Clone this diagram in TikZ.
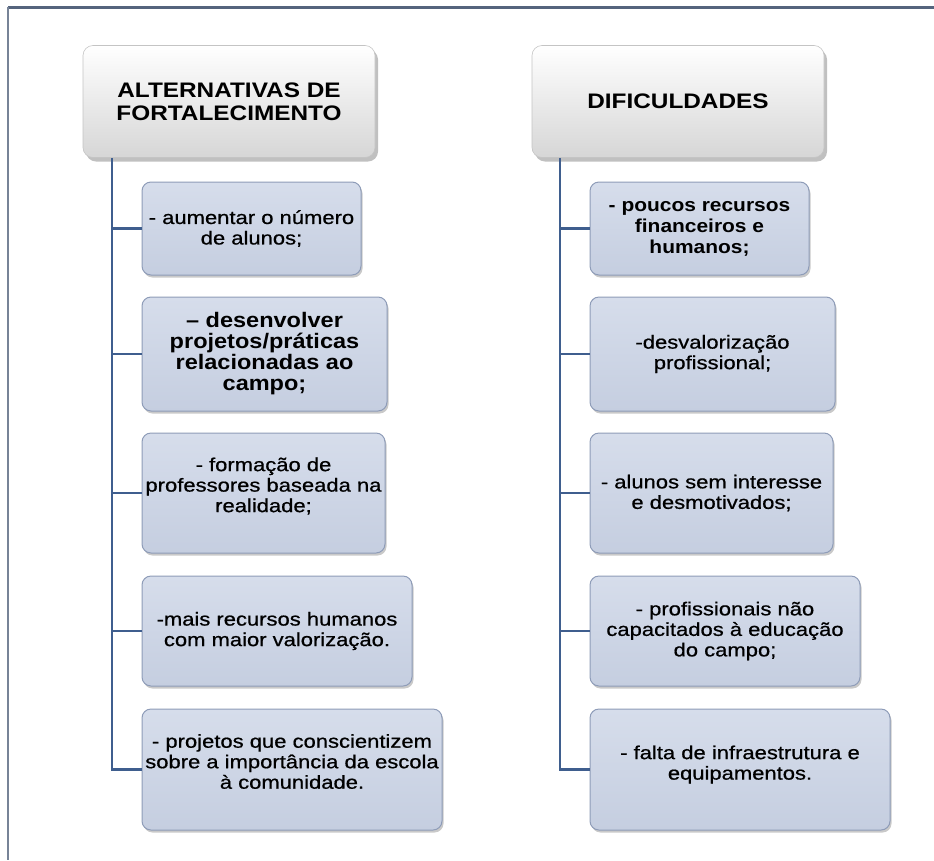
\documentclass[tikz,border=0pt]{standalone}
\usepackage{fontspec}
\setmainfont{Liberation Sans}
\newfontfamily\hdfont[FakeStretch=1.16]{Liberation Sans}
\newfontfamily\bdfont[FakeStretch=1.17,FakeBold=0.7]{Liberation Sans}
\newfontfamily\bbfont[FakeStretch=1.12]{Liberation Sans}
\usetikzlibrary{shadows}
\definecolor{linecol}{HTML}{3F5E8E}
\definecolor{framecol}{HTML}{55647D}
\definecolor{boxline}{HTML}{8E9CB8}
\definecolor{boxtop}{HTML}{D6DDEB}
\definecolor{boxbot}{HTML}{C5CEE0}
\definecolor{headbot}{HTML}{D6D6D6}
\definecolor{headline}{HTML}{C4C4C4}
\tikzset{
  headbox/.style={rectangle, rounded corners=10pt, top color=white, bottom color=headbot,
    draw=headline, line width=0.6pt, minimum width=292pt, minimum height=112pt, inner sep=0pt,
    align=center, font=\hdfont\bfseries\fontsize{21}{23}\selectfont,
    drop shadow={shadow xshift=3pt, shadow yshift=-4pt, opacity=0.35, fill=black!70}},
  bodybox/.style={rectangle, rounded corners=9pt, top color=boxtop, bottom color=boxbot,
    draw=boxline, line width=1pt, inner sep=0pt, align=center,
    font=\bdfont\fontsize{18.8}{20.5}\selectfont,
    drop shadow={shadow xshift=1.5pt, shadow yshift=-2.5pt, opacity=0.35, fill=black!60}},
  bodytext/.style={inner sep=0pt, align=center, font=\bdfont\fontsize{18.8}{20.5}\selectfont},
  boldtext/.style={font=\bbfont\bfseries\fontsize{#1}{21}\selectfont},
  conn/.style={draw=linecol, line width=2.8pt},
}
\begin{document}
\begin{tikzpicture}[x=1pt,y=1pt]
\useasboundingbox[fill=white] (0,0) rectangle (934,-860);
% frame
\draw[framecol, line width=3pt] (8,-7) -- (934,-7);
\draw[framecol!80, line width=2.4pt] (8,-7) -- (8,-860);

% headers
\node[headbox] (hL) at (229,-101.5) {ALTERNATIVAS DE\\FORTALECIMENTO};
\node[headbox] (hR) at (678,-101.5) {DIFICULDADES};

% left column
\node[bodybox, minimum width=219pt, minimum height=93pt] (L1) at (251.5,-228.5)
  {- aumentar o número\\de alunos;};
\node[bodybox, boldtext=21, minimum width=245pt, minimum height=114pt] (L2) at (264.5,-354)
  {– desenvolver\\projetos/práticas\\relacionadas ao\\campo;};
\node[bodybox, minimum width=243pt, minimum height=120pt] (L3) at (263.5,-493) {};
\node[bodytext] (L3t) at ([yshift=7pt]L3.center)
  {- formação de\\professores baseada na\\realidade;};
\node[bodybox, minimum width=270pt, minimum height=110pt] (L4) at (277,-631)
  {-mais recursos humanos\\com maior valorização.};
\node[bodybox, minimum width=300pt, minimum height=121pt] (L5) at (292,-769.5) {};
\node[bodytext] (L5t) at ([yshift=8pt]L5.center)
  {- projetos que conscientizem\\sobre a importância da escola\\à comunidade.};

% right column
\node[bodybox, boldtext=18.7, minimum width=219pt, minimum height=93pt] (R1) at (699.5,-228.5)
  {- poucos recursos\\financeiros e\\humanos;};
\node[bodybox, minimum width=245pt, minimum height=114pt] (R2) at (712.5,-354)
  {-desvalorização\\profissional;};
\node[bodybox, minimum width=243pt, minimum height=120pt] (R3) at (711.5,-493)
  {- alunos sem interesse\\e desmotivados;};
\node[bodybox, minimum width=270pt, minimum height=110pt] (R4) at (725,-631)
  {- profissionais não\\capacitados à educação\\do campo;};
\node[bodybox, minimum width=300pt, minimum height=121pt] (R5) at (740,-769.5) {};
\node[bodytext] (R5t) at ([yshift=5pt]R5.center)
  {- falta de infraestrutura e\\equipamentos.};

% connectors
\coordinate (tL) at (hL.south -| 112,0);
\coordinate (tR) at (hR.south -| 560,0);
\draw[conn] (tL) |- (L5.west);
\foreach \k in {1,...,4} \draw[conn] (tL |- L\k.west) -- (L\k.west);
\draw[conn] (tR) |- (R5.west);
\foreach \k in {1,...,4} \draw[conn] (tR |- R\k.west) -- (R\k.west);
\end{tikzpicture}
\end{document}
